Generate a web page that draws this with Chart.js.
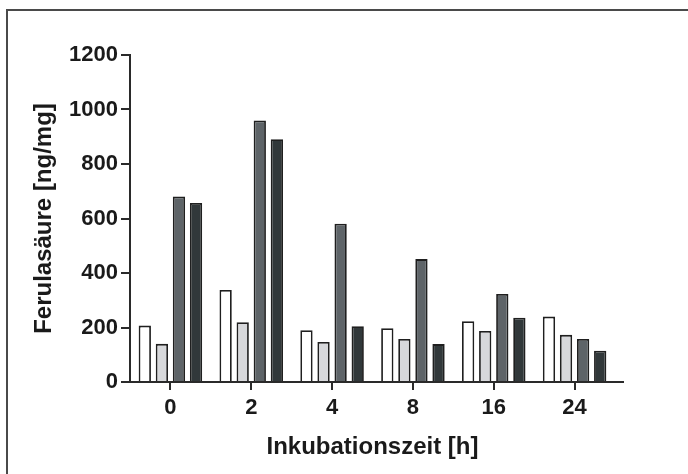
<!DOCTYPE html>
<html>
<head>
<meta charset="utf-8">
<script src="https://cdn.jsdelivr.net/npm/chart.js@4.4.1/dist/chart.umd.min.js"></script>
<style>
  html, body { margin: 0; padding: 0; background: #ffffff; }
  #wrap { position: relative; width: 688px; height: 474px; overflow: hidden; background: #ffffff; }
  #frame { position: absolute; left: 6px; top: 9px; right: -4px; bottom: -4px;
           border-left: 2px solid #4a4a4a; border-top: 2px solid #4a4a4a; }
  #c { position: absolute; left: 0; top: 0; }
</style>
</head>
<body>
<div id="wrap">
  <div id="frame"></div>
  <canvas id="c" width="688" height="474"></canvas>
</div>
<script>
// Incubation times (h)
const categories = ['0', '2', '4', '8', '16', '24'];

// Ferulic acid content (ng/mg) for the four sample series
const seriesA = [207, 338, 190, 197, 223, 240];
const seriesB = [140, 219, 147, 158, 187, 173];
const seriesC = [681, 960, 581, 451, 323, 158];
const seriesD = [657, 891, 205, 139, 236, 115];

const yTicks = [0, 200, 400, 600, 800, 1000, 1200];

const fills = ['#ffffff', '#d7d8db', '#5e6468', '#31383a'];
const edge = '#1f1f1f';

const tickFont = { family: '"Liberation Sans", Arial, Helvetica, sans-serif', size: 22, weight: 'bold' };
const titleFont = { family: '"Liberation Sans", Arial, Helvetica, sans-serif', size: 24, weight: 'bold' };

// Lengthens the x axis line a little past the last category
const axisExtension = {
  id: 'axisExtension',
  afterDraw(chart) {
    const { ctx, chartArea } = chart;
    ctx.save();
    ctx.strokeStyle = '#2a2a2a';
    ctx.lineWidth = 2;
    ctx.beginPath();
    ctx.moveTo(chartArea.right - 1, chartArea.bottom);
    ctx.lineTo(chartArea.right + 9, chartArea.bottom);
    ctx.stroke();
    ctx.restore();
  }
};

const makeSet = (data, i) => ({
  data,
  backgroundColor: fills[i],
  borderColor: edge,
  borderWidth: 1.8,
  borderSkipped: 'bottom',
  barPercentage: 0.72,
  categoryPercentage: 0.845
});

new Chart(document.getElementById('c'), {
  type: 'bar',
  data: {
    labels: categories,
    datasets: [seriesA, seriesB, seriesC, seriesD].map(makeSet)
  },
  options: {
    responsive: false,
    animation: false,
    devicePixelRatio: 1,
    layout: { padding: { top: 55, right: 73, bottom: 0, left: 1 } },
    plugins: { legend: { display: false }, tooltip: { enabled: false } },
    scales: {
      x: {
        offset: true,
        afterFit(scale) { scale.height = 92; },
        grid: { display: true, drawOnChartArea: false, drawTicks: true, tickLength: 8, offset: false, color: '#2a2a2a', lineWidth: 2 },
        border: { display: true, color: '#2a2a2a', width: 2 },
        ticks: { color: '#1a1a1a', font: tickFont, padding: 5, maxRotation: 0 },
        title: { display: true, text: 'Inkubationszeit [h]', color: '#1a1a1a', font: titleFont, padding: { top: 0, bottom: 12 } }
      },
      y: {
        min: 0,
        max: 1200,
        afterFit(scale) { scale.width = 129; },
        afterBuildTicks(scale) { scale.ticks = yTicks.map(v => ({ value: v })); },
        grid: { display: true, drawOnChartArea: false, drawTicks: true, tickLength: 9, color: '#2a2a2a', lineWidth: 2 },
        border: { display: true, color: '#2a2a2a', width: 2 },
        ticks: { color: '#1a1a1a', font: tickFont, padding: 3, callback: v => String(v) },
        title: { display: true, text: 'Ferulasäure [ng/mg]', color: '#1a1a1a', font: titleFont, padding: { top: 29, bottom: 0 } }
      }
    }
  },
  plugins: [axisExtension]
});
</script>
</body>
</html>
